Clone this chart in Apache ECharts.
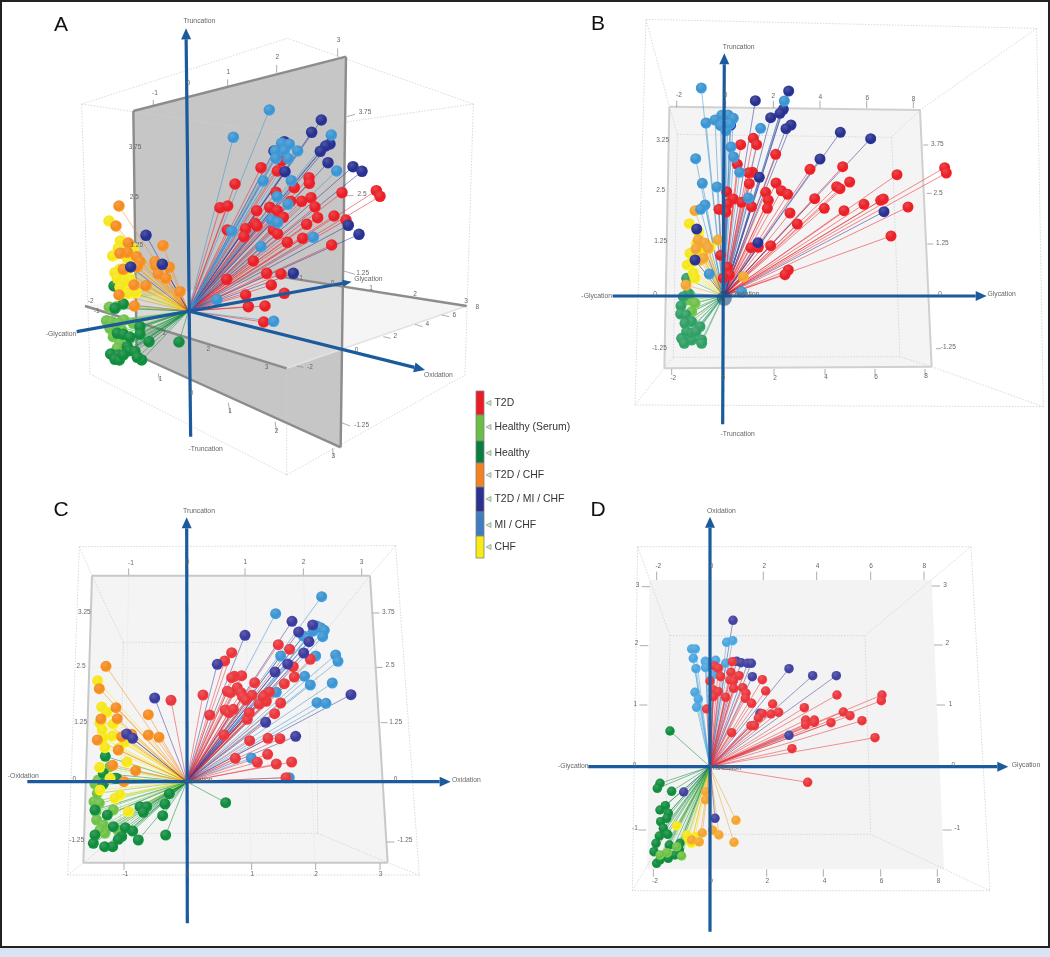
<!DOCTYPE html>
<html><head><meta charset="utf-8">
<style>html,body{margin:0;padding:0;background:#fff}#c{width:1050px;height:957px}</style>
<script src="https://cdn.jsdelivr.net/npm/echarts@6/dist/echarts.min.js"></script>
</head><body><div id="c"></div>
<script>
// Each panel is a projected 3D view; values are read off the picture as [across, up]
// positions relative to the panel's origin, in the units of that panel's own value axes.
const classNames = ['T2D','Healthy (Serum)','Healthy','T2D / CHF','T2D / MI / CHF','MI / CHF','CHF'];
const legendColors = ['#ed1c24','#6cbd45','#0a7d40','#f58220','#2b3190','#3f7cc0','#f7ec13'];

// ---------- Panel A ----------
const aT2D=[[2.18,4.30],[2.67,4.20],[2.80,4.50],[1.40,3.81],[0.95,3.10],[1.18,3.15],[2.63,3.56],[3.18,3.70],[3.62,4.00],[3.63,3.83],[4.61,3.55],[5.64,3.61],[5.75,3.44],[2.05,3.01],[2.44,3.11],[2.67,3.01],[2.85,2.81],[3.07,3.29],[3.40,3.29],[3.68,3.40],[3.80,3.12],[3.88,2.80],[3.55,2.60],[4.37,2.85],[1.17,2.43],[1.72,2.47],[1.67,2.23],[2.00,2.63],[2.06,2.55],[2.55,2.43],[2.68,2.31],[2.97,2.06],[3.43,2.18],[4.30,1.98],[1.95,1.50],[1.15,0.95],[2.35,1.13],[2.78,1.11],[2.49,0.78],[1.72,0.48],[2.88,0.53],[1.80,0.13],[2.30,0.15],[2.26,-0.33],[4.73,2.73]];
const aSerum=[[-2.37,0.11],[-2.15,0.13],[-2.45,-0.29],[-2.30,-0.32],[-2.00,-0.57],[-2.35,-0.52],[-2.25,-0.77],[-2.05,-0.97],[-2.13,-1.12],[-1.93,-0.27],[-1.65,-0.37],[-2.10,-0.37]];
const aHealthy=[[-2.23,0.75],[-1.95,0.21],[-2.20,0.08],[-0.28,-0.93],[-2.13,-0.67],[-1.95,-0.70],[-1.75,-0.79],[-1.45,-0.47],[-1.45,-0.70],[-1.18,-0.92],[-1.83,-1.07],[-2.33,-1.29],[-2.10,-1.32],[-2.20,-1.45],[-2.07,-1.47],[-1.77,-1.19],[-1.60,-1.22],[-1.40,-1.47],[-1.53,-1.39],[-1.95,-1.32]];
const aT2dChf=[[-2.08,3.15],[-2.17,2.55],[-1.80,2.04],[-0.76,1.96],[-1.83,1.76],[-2.05,1.73],[-1.55,1.63],[-1.45,1.48],[-1.00,1.48],[-0.97,1.35],[-0.57,1.31],[-1.53,1.33],[-1.95,1.25],[-0.90,1.11],[-0.67,0.98],[-1.63,0.78],[-1.27,0.76],[-0.25,0.58],[-2.08,0.48],[-1.62,0.15]];
const aT2dMiChf=[[3.99,5.73],[3.70,5.36],[2.88,5.08],[2.57,4.80],[4.25,5.01],[4.12,4.95],[3.96,4.79],[4.19,4.45],[4.94,4.33],[5.21,4.19],[2.90,4.18],[4.80,2.57],[5.12,2.30],[3.15,1.13],[-1.27,2.27],[-1.73,1.32],[-0.78,1.40]];
const aMiChf=[[2.43,6.03],[1.35,5.21],[4.29,5.28],[2.80,5.03],[3.03,5.00],[2.88,4.81],[2.61,4.80],[3.28,4.80],[3.00,4.57],[2.63,4.58],[4.45,4.20],[2.25,3.90],[3.09,3.91],[2.67,3.43],[2.99,3.20],[2.50,2.73],[2.68,2.65],[1.30,2.39],[3.75,2.21],[2.18,1.93],[0.86,0.34],[2.56,-0.31]];
const aChf=[[-2.38,2.70],[-2.04,2.10],[-2.10,1.88],[-1.65,1.88],[-2.27,1.65],[-1.83,1.58],[-2.05,1.25],[-2.20,1.15],[-1.90,1.05],[-2.13,0.98],[-1.75,0.95],[-1.95,0.81],[-1.80,0.53],[-2.05,0.71],[-1.57,0.55],[-1.83,1.23]];

// ---------- Panel B ----------
const bT2D=[[.52,4.54],[.90,4.73],[1.00,4.54],[1.57,4.25],[.42,3.95],[.88,3.71],[.76,3.70],[2.60,3.80],[3.58,3.88],[5.21,3.64],[6.64,3.85],[6.69,3.69],[.78,3.37],[1.58,3.39],[.10,3.13],[1.27,3.11],[1.74,3.16],[1.93,3.05],[3.40,3.28],[3.50,3.22],[3.79,3.42],[2.74,2.92],[.30,2.91],[.13,2.76],[.55,2.81],[1.35,2.87],[1.32,2.63],[.85,2.68],[-.13,2.60],[.08,2.52],[3.03,2.63],[3.62,2.56],[4.22,2.75],[4.72,2.87],[4.80,2.91],[5.54,2.67],[2.00,2.49],[2.22,2.16],[5.03,1.80],[.83,1.45],[1.05,1.46],[1.42,1.51],[-.08,1.22],[.13,.86],[.18,.63],[0,.54],[1.95,.78],[1.85,.64]];
const bSerum=[[-1.00,.03],[-1.05,-.12],[-.85,-.22],[-1.12,-.77],[-.95,-.47]];
const bHealthy=[[-1.10,.53],[-1.27,-.30],[-1.28,-.54],[-1.12,-.57],[-1.05,.08],[-1.20,-.02],[-.95,-.77],[-.70,-.92],[-1.25,-1.27],[-.95,-1.32],[-.65,-1.32],[-.65,-1.42],[-1.17,-1.42],[-1.10,-1.07],[-.93,-1.12],[-1.15,-.82],[-.82,-1.07]];
const bT2dChf=[[-.85,2.56],[-.75,1.68],[-.82,1.41],[-.55,1.58],[-.45,1.43],[-.70,1.08],[-.60,1.13],[-1.12,.33],[-.15,1.68],[.60,.58]];
const bT2dMiChf=[[1.96,6.15],[.96,5.86],[1.80,5.60],[1.70,5.48],[1.42,5.35],[2.03,5.13],[1.88,5.02],[.22,5.13],[3.51,4.91],[4.42,4.72],[2.90,4.11],[1.08,3.56],[4.82,2.53],[1.04,1.60],[-.80,2.01],[-.85,1.08]];
const bMiChf=[[-.66,6.24],[1.83,5.85],[-.05,5.42],[.14,5.43],[.30,5.33],[-.25,5.28],[-.52,5.19],[-.08,5.11],[.08,4.96],[1.12,5.03],[.23,4.47],[-.83,4.12],[.31,4.17],[.49,3.71],[-.63,3.38],[-.19,3.27],[.75,2.94],[-.55,2.73],[-.68,2.60],[-.42,.66],[.55,.12],[.20,5.16]];
const bChf=[[-1.02,2.17],[-.75,1.93],[-1.00,1.28],[-1.08,.93],[-.90,.68],[-.85,.53],[-.70,1.33],[-.95,1.00],[-.80,1.58],[-.40,1.46]];
const bOriginBall=[[.03,-.07]];

// ---------- Panel C ----------
const cT2D=[[2.75,4.11],[3.09,3.97],[1.35,3.87],[1.14,3.62],[3.71,3.67],[3.20,3.45],[3.23,3.14],[2.93,2.94],[1.65,3.18],[1.43,3.16],[1.35,3.12],[2.04,2.97],[.49,2.60],[1.22,2.71],[1.32,2.67],[1.52,2.82],[1.63,2.67],[1.68,2.55],[1.78,2.45],[1.96,2.59],[2.35,2.60],[2.48,2.69],[2.18,2.33],[2.39,2.41],[2.82,2.36],[2.64,2.04],[1.16,2.15],[1.27,2.07],[1.40,2.17],[.69,2.00],[1.82,1.87],[1.88,2.07],[1.12,1.40],[1.89,1.23],[2.44,1.30],[2.80,1.29],[2.43,.82],[1.46,.70],[2.12,.58],[2.69,.53],[3.15,.59],[2.98,.12],[-.47,2.44],[2.30,2.55]];
const cSerum=[[-2.75,-.07],[-2.65,.05],[-2.68,-.35],[-2.78,-.60],[-2.72,-.90],[-2.70,-1.15],[-2.50,-1.30],[-2.45,-1.55],[-2.20,-.85],[-2.07,-1.45],[-2.60,-1.45],[-2.62,-.65],[-2.30,.45]];
const cHealthy=[[-2.44,.76],[-2.50,.25],[-2.50,-.07],[-2.15,.10],[-.52,-.36],[-.65,-.67],[1.17,-.63],[-.72,-1.02],[-.63,-1.60],[-1.45,-1.75],[-1.62,-1.48],[-1.84,-1.38],[-1.40,-.75],[-1.20,-.75],[-1.30,-.92],[-2.38,-1.00],[-1.95,-1.65],[-2.05,-1.73],[-2.22,-1.95],[-2.46,-1.95],[-2.80,-1.85],[-2.75,-1.60],[-2.20,-1.35],[-2.75,-.85],[-2.10,.10]];
const cT2dChf=[[-2.42,3.46],[-2.62,2.79],[-2.12,2.22],[-2.08,1.89],[-1.15,2.01],[-1.15,1.40],[-.83,1.33],[-2.68,1.25],[-1.95,1.35],[-1.65,1.42],[-2.22,.49],[-1.53,.33],[-1.88,0],[-2.57,1.88],[-2.05,.95]];
const cT2dMiChf=[[3.16,4.81],[1.75,4.39],[3.78,4.70],[3.36,4.49],[3.67,4.20],[3.51,3.86],[.92,3.52],[3.03,3.53],[2.65,3.29],[4.93,2.61],[2.37,1.78],[3.27,1.36],[-.96,2.51],[-1.80,1.43],[-1.62,1.30]];
const cMiChf=[[4.05,5.55],[2.67,5.04],[3.90,4.67],[4.02,4.62],[4.13,4.54],[3.80,4.52],[3.50,4.37],[3.63,4.30],[4.08,4.35],[2.82,3.77],[3.87,3.77],[4.47,3.80],[4.54,3.61],[3.54,3.16],[3.71,2.90],[4.37,2.96],[2.69,2.68],[3.91,2.37],[4.18,2.35],[1.94,.71],[3.08,.12]];
const cChf=[[-2.67,3.03],[-2.55,2.24],[-2.39,2.08],[-2.58,1.83],[-2.60,1.75],[-2.20,1.73],[-2.53,1.55],[-2.22,1.37],[-2.50,1.30],[-1.85,1.18],[-2.45,1.02],[-2.03,1.00],[-1.79,.59],[-2.61,.43],[-2.00,-.40],[-1.75,-.90],[-2.15,-.50],[-2.30,.10],[-2.60,-.25]];

// ---------- Panel D ----------
const dT2D=[[.13,3.02],[.25,2.95],[.63,2.83],[.87,2.73],[0,2.57],[.32,2.70],[.60,2.60],[.70,2.57],[1.57,2.61],[.71,2.35],[.98,2.37],[1.67,2.27],[1.08,2.20],[.10,2.30],[.25,2.25],[.10,2.10],[.47,2.08],[1.06,2.05],[1.25,1.90],[1.88,1.88],[-.10,1.73],[2.83,1.77],[3.81,2.15],[5.16,2.15],[5.14,1.98],[4.00,1.64],[4.20,1.53],[4.56,1.38],[3.63,1.32],[3.13,1.40],[3.13,1.33],[2.87,1.40],[2.87,1.26],[2.06,1.63],[1.83,1.58],[1.57,1.59],[1.45,1.46],[1.23,1.23],[1.33,1.23],[.65,1.02],[4.95,.87],[2.46,.54],[2.93,-.47],[.67,3.15]];
const dSerum=[[-1.28,-2.58],[-1.50,-2.65],[-.85,-2.68],[-1.00,-2.40]];
const dHealthy=[[-1.50,-.50],[-1.58,-.65],[-1.15,-.74],[-1.34,-1.17],[-1.50,-1.30],[-1.25,-1.40],[-1.30,-1.55],[-1.48,-1.65],[-1.40,-1.85],[-1.27,-2.03],[-1.52,-2.08],[-1.62,-2.30],[-1.22,-2.35],[-.90,-2.30],[-.92,-2.50],[-1.68,-2.55],[-1.20,1.07],[-1.60,-2.90],[-1.50,-2.80],[-1.25,-2.75],[-1.05,-2.65]];
const dT2dChf=[[-.12,-.75],[-.13,-1.00],[.78,-1.61],[-.23,-1.99],[.08,-1.91],[.27,-2.05],[.72,-2.27],[-.32,-2.26],[-.55,-2.20]];
const dT2dMiChf=[[.69,4.39],[.80,3.16],[.93,3.12],[1.13,3.10],[1.24,3.10],[2.37,2.94],[3.08,2.73],[3.79,2.73],[1.27,2.70],[1.50,1.60],[2.37,.94],[-.79,-.76],[.15,-1.55]];
const dMiChf=[[.68,3.78],[.50,3.73],[-.55,3.53],[-.44,3.53],[-.50,3.25],[-.14,3.16],[.17,3.19],[-.10,3.10],[.47,3.10],[-.13,2.97],[-.42,2.94],[.10,2.75],[-.45,2.23],[-.35,2.02],[-.40,1.78]];
const dChf=[[-1.00,-1.77],[-.65,-2.20],[-.55,-2.30],[-.70,-2.05],[-.45,-2.10]];

// ---------- Frames of the views (corner positions in panel units) ----------
const aWallPlane=[[-1.65,6.00],[4.73,7.63],[4.57,-4.09],[-1.55,-1.32]];
const aFloorPlane=[[-3.10,0.15],[2.95,-1.72],[8.35,0.15],[2.75,1.03]];
const aBox=[[-3.20,6.21,2.97,8.18],[2.97,8.18,8.55,6.21],[8.55,6.21,2.55,5.36],[2.55,5.36,-3.20,6.21],[-3.20,6.21,-2.95,-1.89],[8.55,6.21,8.30,-1.92],[2.55,5.36,2.75,1.03],[2.95,-1.72,2.95,-4.92],[-2.95,-1.89,2.95,-4.92],[2.95,-4.92,8.30,-1.92]];
const aEdges=[[-1.65,6.00,4.73,7.63],[4.73,7.63,4.57,-4.09],[4.57,-4.09,-1.55,-1.32],[-1.55,-1.32,-1.65,6.00],[-3.10,0.15,2.95,-1.72],[2.75,1.03,8.35,0.15]];
const aSoftEdges=[[2.95,-1.72,8.35,0.15]];
const aTicks=[[-1.05,6.33,-1.05,6.15],[1.18,6.95,1.18,6.75],[2.65,7.38,2.65,7.15],[4.48,7.88,4.48,7.63],[4.75,5.83,5.00,5.90],[4.63,3.46,4.95,3.46],[4.63,1.21,5.00,1.10],[4.60,-3.35,4.85,-3.45],[7.60,-0.12,7.83,-0.17],[6.80,-0.40,7.03,-0.47],[5.85,-0.77,6.07,-0.82],[3.25,-1.65,3.45,-1.69],[-0.90,-1.87,-0.87,-2.07],[1.20,-2.75,1.25,-3.07],[2.60,-3.32,2.65,-3.62],[4.33,-4.12,4.35,-4.37]];
const aTickLabels=[[-1.00,6.52,'-1'],[0,6.83,'0'],[1.20,7.17,'1'],[2.67,7.60,'2'],[4.51,8.12,'3'],[5.30,5.95,'3.75'],[-1.60,4.90,'3.75'],[5.21,3.51,'2.5'],[-1.62,3.40,'2.5'],[5.23,1.13,'1.25'],[-1.55,1.98,'1.25'],[4.33,0.83,'0'],[5.48,0.67,'1'],[6.80,0.49,'2'],[8.33,0.28,'3'],[8.67,0.12,'8'],[7.98,-0.14,'6'],[7.17,-0.41,'4'],[6.21,-0.77,'2'],[3.65,-1.69,'-2'],[2.35,-1.69,'3'],[0.60,-1.14,'2'],[-2.93,0.29,'-2'],[-2.75,-0.02,'-1'],[-0.83,-2.05,'1'],[1.25,-3.00,'1'],[2.65,-3.62,'2'],[4.35,-4.37,'3'],[5.20,-3.44,'-1.25'],[0.10,-2.47,'0'],[3.35,0.97,'-1'],[5.05,-1.17,'0'],[-2.30,0.68,'-1'],[-0.73,-0.67,'1']];
const aAxisNames=[[0.33,8.70,'Truncation'],[0.52,-4.13,'-Truncation'],[5.40,0.97,'Glycation'],[-3.82,-0.69,'-Glycation'],[7.50,-1.92,'Oxidation']];
const aAxes=[[0.07,-3.77,-0.07,8.48],[-3.35,-0.62,4.90,0.88],[0,0,7.10,-1.77]];

const bPlane=[[-1.62,5.68],[5.90,5.58],[6.25,-2.12],[-1.77,-2.17]];
const bBox=[[-2.32,8.30,9.40,8.03],[9.40,8.03,9.60,-3.32],[9.60,-3.32,-2.65,-3.27],[-2.65,-3.27,-2.32,8.30],[-1.38,4.85,5.05,4.76],[5.05,4.76,5.30,-1.82],[5.30,-1.82,-1.50,-1.84],[-1.50,-1.84,-1.38,4.85],[-2.32,8.30,-1.62,5.68],[9.40,8.03,5.90,5.58],[9.60,-3.32,6.25,-2.12],[-2.65,-3.27,-1.77,-2.17],[-1.62,5.68,-1.38,4.85],[5.90,5.58,5.05,4.76],[6.25,-2.12,5.30,-1.82],[-1.77,-2.17,-1.50,-1.84]];
const bEdges=[[-1.62,5.68,5.90,5.58],[5.90,5.58,6.25,-2.12],[6.25,-2.12,-1.77,-2.17],[-1.77,-2.17,-1.62,5.68]];
const bTicks=[[-1.40,5.86,-1.40,5.66],[.07,5.86,.07,5.64],[1.50,5.86,1.50,5.64],[2.90,5.86,2.90,5.64],[4.30,5.86,4.30,5.64],[5.70,5.86,5.70,5.64],[6.00,4.53,6.15,4.53],[6.10,3.08,6.25,3.08],[6.12,1.56,6.30,1.56],[6.38,-1.58,6.53,-1.58],[-1.55,-2.19,-1.55,-2.37],[.02,-2.19,.02,-2.37],[1.52,-2.19,1.52,-2.37],[3.05,-2.19,3.05,-2.37],[4.55,-2.19,4.55,-2.37],[6.05,-2.19,6.05,-2.37]];
const bTickLabels=[[-1.33,6.02,'-2'],[.07,6.01,'0'],[1.50,5.99,'2'],[2.91,5.96,'4'],[4.32,5.93,'6'],[5.71,5.91,'8'],[6.42,4.55,'3.75'],[6.44,3.08,'2.5'],[6.57,1.58,'1.25'],[6.50,.06,'0'],[6.75,-1.55,'-1.25'],[-1.82,4.66,'3.25'],[-1.88,3.16,'2.5'],[-1.88,1.63,'1.25'],[-2.05,.06,'0'],[-1.92,-1.58,'-1.25'],[-1.50,-2.47,'-2'],[0,-2.47,'0'],[1.55,-2.47,'2'],[3.08,-2.44,'4'],[4.58,-2.44,'6'],[6.08,-2.42,'8']];
const bAxisNames=[[.46,7.48,'Truncation'],[.43,-4.14,'-Truncation'],[-3.80,-.01,'-Glycation'],[8.35,.05,'Glycation'],[.65,.05,'Oxidation']];
const bAxes=[[-.02,-3.85,.03,7.28],[-3.32,0,7.90,0]];

const cPlane=[[-2.84,6.18],[5.50,6.18],[6.03,-2.43],[-3.10,-2.43]];
const cBox=[[-3.22,7.05,6.27,7.08],[6.27,7.08,6.98,-2.80],[6.98,-2.80,-3.57,-2.80],[-3.57,-2.80,-3.22,7.05],[-1.90,4.18,3.90,4.18],[3.90,4.18,3.93,-1.55],[3.93,-1.55,-2.00,-1.55],[-2.00,-1.55,-1.90,4.18],[-3.22,7.05,-2.84,6.18],[6.27,7.08,5.50,6.18],[6.98,-2.80,6.03,-2.43],[-3.57,-2.80,-3.10,-2.43],[-2.84,6.18,-1.90,4.18],[5.50,6.18,3.90,4.18],[6.03,-2.43,3.93,-1.55],[-3.10,-2.43,-2.00,-1.55]];
const cEdges=[[-2.84,6.18,5.50,6.18],[5.50,6.18,6.03,-2.43],[6.03,-2.43,-3.10,-2.43],[-3.10,-2.43,-2.84,6.18]];
const cGrid=[[1.75,6.18,1.93,-2.43],[3.50,6.18,3.85,-2.43],[-1.74,6.18,-1.88,-2.43],[-2.95,3.42,5.75,3.42],[-3.00,1.78,5.85,1.78]];
const cTicks=[[-1.74,6.40,-1.74,6.20],[.03,6.40,.03,6.20],[1.75,6.40,1.75,6.20],[3.50,6.40,3.50,6.20],[5.25,6.40,5.25,6.20],[5.58,5.06,5.78,5.06],[5.70,3.43,5.88,3.43],[5.83,1.77,6.03,1.77],[6.00,-1.81,6.23,-1.81],[-1.88,-2.45,-1.88,-2.65],[.03,-2.45,.03,-2.65],[1.95,-2.45,1.95,-2.65],[3.87,-2.45,3.87,-2.65],[5.80,-2.45,5.80,-2.65]];
const cTickLabels=[[-1.67,6.55,'-1'],[.03,6.57,'0'],[1.76,6.57,'1'],[3.51,6.57,'2'],[5.25,6.57,'3'],[6.05,5.09,'3.75'],[6.10,3.48,'2.5'],[6.27,1.79,'1.25'],[6.27,.06,'0'],[6.55,-1.77,'-1.25'],[-3.07,5.07,'3.25'],[-3.17,3.46,'2.5'],[-3.18,1.79,'1.25'],[-3.37,.06,'0'],[-3.30,-1.75,'-1.25'],[-1.84,-2.78,'-1'],[.03,-2.78,'0'],[1.97,-2.78,'1'],[3.88,-2.78,'2'],[5.82,-2.78,'3']];
const cAxisNames=[[.37,8.13,'Truncation'],[8.39,.05,'Oxidation'],[-4.90,.17,'-Oxidation'],[.35,.05,'Glycation']];
const cAxes=[[.02,-4.25,0,7.93],[-4.78,0,7.92,0]];

const dPlane=[[-1.82,5.60],[6.65,5.60],[7.02,-3.08],[-1.88,-3.08]];
const dBox=[[-2.17,6.60,7.83,6.60],[7.83,6.60,8.40,-3.72],[8.40,-3.72,-2.33,-3.72],[-2.33,-3.72,-2.17,6.60],[-1.20,3.93,4.65,3.93],[4.65,3.93,4.82,-2.03],[4.82,-2.03,-1.32,-2.03],[-1.32,-2.03,-1.20,3.93],[-2.17,6.60,-1.20,3.93],[7.83,6.60,4.65,3.93],[8.40,-3.72,4.82,-2.03],[-2.33,-3.72,-1.32,-2.03]];
const dTicks=[[-1.60,5.85,-1.60,5.60],[1.60,5.85,1.60,5.60],[3.20,5.85,3.20,5.60],[4.82,5.85,4.82,5.60],[6.42,5.85,6.42,5.60],[6.65,5.42,6.90,5.42],[6.72,3.65,6.98,3.65],[6.80,1.85,7.05,1.85],[6.98,-1.90,7.25,-1.90],[-2.05,5.40,-1.80,5.40],[-2.10,3.63,-1.85,3.63],[-2.12,1.85,-1.88,1.85],[-2.15,-1.90,-1.92,-1.90],[-1.70,-3.08,-1.70,-3.30],[1.70,-3.08,1.70,-3.30],[3.40,-3.08,3.40,-3.30],[5.12,-3.08,5.12,-3.30],[6.82,-3.08,6.82,-3.30]];
const dTickLabels=[[-1.55,6.01,'-2'],[.05,6.01,'0'],[1.63,6.01,'2'],[3.23,6.01,'4'],[4.83,6.01,'6'],[6.43,6.01,'8'],[7.05,5.45,'3'],[7.12,3.69,'2'],[7.22,1.88,'1'],[7.30,.05,'0'],[7.42,-1.86,'-1'],[-2.17,5.45,'3'],[-2.20,3.69,'2'],[-2.24,1.88,'1'],[-2.26,.05,'0'],[-2.25,-1.86,'-1'],[-1.65,-3.45,'-2'],[.03,-3.45,'0'],[1.72,-3.45,'2'],[3.44,-3.45,'4'],[5.15,-3.45,'6'],[6.86,-3.45,'8']];
const dAxisNames=[[.34,7.68,'Oxidation'],[-4.10,.01,'-Glycation'],[9.48,.05,'Glycation'],[.45,-.05,'Truncation']];
const dAxes=[[0,-4.95,0,7.50],[-3.65,0,8.95,0]];

const panels=[
 {letter:'A',lx:61,ly:25,grid:[40,0,460,480],xr:[-4.45,9.35],yr:[-5.07,9.33],size:11.5,rayW:1,
  sets:[aSerum,aHealthy,aChf,aT2dChf,aT2D,aT2dMiChf,aMiChf],
  colors:['#6cbf46','#0f8a3c','#f5e616','#f58a1f','#e81f26','#27308f','#3a93d0'],
  planes:[[aWallPlane,'#c6c6c6'],[aFloorPlane,'rgba(236,236,236,0.5)']],box:aBox,edges:aEdges,edgeColor:'#8c8c8c',edgeW:2.4,soft:aSoftEdges,
  ticks:aTicks,labels:aTickLabels,names:aAxisNames,axes:aAxes},
 {letter:'B',lx:598,ly:24,grid:[570,10,480,430],xr:[-4.60,9.80],yr:[-4.32,8.58],size:11,rayW:1,
  sets:[bSerum,bHealthy,bChf,bT2dChf,bT2D,bT2dMiChf,bMiChf],
  colors:['#6cbf46','#2e9d63','#f5e616','#f2a32e','#e81f26','#27308f','#3a93d0'],
  planes:[[bPlane,'#f4f4f4']],box:bBox,edges:bEdges,edgeColor:'#d0d0d0',edgeW:2,soft:[],
  ticks:bTicks,labels:bTickLabels,names:bAxisNames,axes:bAxes,ball:bOriginBall},
 {letter:'C',lx:61,ly:510,grid:[20,490,480,450],xr:[-5.00,9.40],yr:[-4.75,8.75],size:11,rayW:1,
  sets:[cSerum,cHealthy,cChf,cT2dChf,cMiChf,cT2D,cT2dMiChf],
  colors:['#6cbf46','#0f8a3c','#f5e616','#f58a1f','#3a93d0','#e8343a','#3a3a9c'],
  planes:[[cPlane,'#f4f4f4']],box:cBox,edges:cEdges,edgeColor:'#c8c8c8',edgeW:2,soft:cGrid,
  ticks:cTicks,labels:cTickLabels,names:cAxisNames,axes:cAxes},
 {letter:'D',lx:598,ly:510,grid:[560,500,490,440],xr:[-4.50,10.20],yr:[-5.20,8.00],size:9.5,rayW:1,
  sets:[dChf,dT2dChf,dHealthy,dSerum,dMiChf,dT2dMiChf,dT2D],
  colors:['#f5e616','#f2a32e','#0f8a3c','#6cbf46','#4aa3dc','#40409e','#e8343a'],
  planes:[[dPlane,'#f3f3f3']],box:dBox,edges:[],edgeColor:'#ccc',edgeW:1,soft:[],
  ticks:dTicks,labels:dTickLabels,names:dAxisNames,axes:dAxes}
];

const chart=echarts.init(document.getElementById('c'),null,{renderer:'canvas'});
const grids=[],xAxes=[],yAxes=[],series=[];
const lift=echarts.color.lift, alpha=echarts.color.modifyAlpha;

function segSeries(i,segs,color,width,dash,z){
  return {type:'custom',xAxisIndex:i,yAxisIndex:i,clip:false,silent:true,z:z,data:segs,encode:{x:[0,2],y:[1,3]},
    renderItem:(p,api)=>{const a=api.coord([api.value(0),api.value(1)]),b=api.coord([api.value(2),api.value(3)]);
      return {type:'line',shape:{x1:a[0],y1:a[1],x2:b[0],y2:b[1]},style:{stroke:color,lineWidth:width,lineDash:dash||null}};}};
}
function textSeries(i,rows,size,color){
  return {type:'custom',xAxisIndex:i,yAxisIndex:i,clip:false,silent:true,z:9,data:rows.map(r=>[r[0],r[1]]),encode:{x:0,y:1},
    renderItem:(p,api)=>{const a=api.coord([api.value(0),api.value(1)]);
      return {type:'text',style:{text:rows[p.dataIndex][2],x:a[0],y:a[1],fill:color,fontSize:size,fontFamily:'Liberation Sans',align:'center',verticalAlign:'middle'}};}};
}
panels.forEach((pn,i)=>{
  grids.push({left:pn.grid[0],top:pn.grid[1],width:pn.grid[2],height:pn.grid[3],containLabel:false});
  xAxes.push({type:'value',gridIndex:i,min:pn.xr[0],max:pn.xr[1],show:false});
  yAxes.push({type:'value',gridIndex:i,min:pn.yr[0],max:pn.yr[1],show:false});
  pn.planes.forEach(pl=>series.push({type:'custom',xAxisIndex:i,yAxisIndex:i,clip:false,silent:true,z:1,data:[pl[0][0]],encode:{x:0,y:1},
    renderItem:(p,api)=>({type:'polygon',shape:{points:pl[0].map(q=>api.coord(q))},style:{fill:pl[1]}})}));
  series.push(segSeries(i,pn.box,'#cfcfcf',0.8,[1.5,1.5],2));
  series.push(segSeries(i,pn.soft,i===0?'#e2e2e2':'#ececec',i===0?1.5:0.8,null,2));
  series.push(segSeries(i,pn.edges,pn.edgeColor,pn.edgeW,null,3));
  series.push(segSeries(i,pn.ticks,'#8a8a8a',0.7,null,3));
  pn.sets.forEach((set,k)=>{
    const col=pn.colors[k];
    series.push({name:'rays',type:'custom',xAxisIndex:i,yAxisIndex:i,clip:false,silent:true,z:4,data:set,encode:{x:0,y:1},
      renderItem:(p,api)=>{const a=api.coord([0,0]),b=api.coord([api.value(0),api.value(1)]);
        return {type:'line',shape:{x1:a[0],y1:a[1],x2:b[0],y2:b[1]},style:{stroke:alpha(col,0.52),lineWidth:pn.rayW}};}});
  });
  pn.sets.forEach((set,k)=>{
    const col=pn.colors[k];
    series.push({type:'scatter',xAxisIndex:i,yAxisIndex:i,clip:false,silent:true,z:5,data:set,symbolSize:pn.size,
      itemStyle:{opacity:1,color:{type:'radial',x:0.38,y:0.32,r:0.75,colorStops:[{offset:0,color:lift(col,0.18)},{offset:0.6,color:col},{offset:1,color:lift(col,-0.15)}]}}});
  });
  if(pn.ball) series.push({type:'scatter',xAxisIndex:i,yAxisIndex:i,clip:false,silent:true,z:6,data:pn.ball,symbolSize:15,itemStyle:{color:'rgba(28,78,130,0.75)'}});
  series.push({type:'custom',xAxisIndex:i,yAxisIndex:i,clip:false,silent:true,z:6,data:pn.axes,encode:{x:[0,2],y:[1,3]},
    renderItem:(p,api)=>{const a=api.coord([api.value(0),api.value(1)]),b=api.coord([api.value(2),api.value(3)]);
      const L=Math.hypot(b[0]-a[0],b[1]-a[1]),ux=(b[0]-a[0])/L,uy=(b[1]-a[1])/L;
      const small=(i===0&&p.dataIndex===1);
      const tip=small?9:11, hw=small?3.5:5, m2=[b[0]-ux*tip,b[1]-uy*tip];
      return {type:'group',children:[
        {type:'line',shape:{x1:a[0],y1:a[1],x2:m2[0],y2:m2[1]},style:{stroke:'#1b5a9c',lineWidth:3.2}},
        {type:'polygon',shape:{points:[b,[m2[0]-uy*hw,m2[1]+ux*hw],[m2[0]+uy*hw,m2[1]-ux*hw]]},style:{fill:'#1b5a9c'}}]};}});
  series.push(textSeries(i,pn.labels,6.5,'#666'));
  series.push(textSeries(i,pn.names,6.8,'#666'));
});

const legendTops=[391,415,441,463,487,512,536,558];
const legendTextY=[403,427,453,475,499,525,547];
const graphic=[
 {type:'rect',z:0,shape:{x:0,y:0,width:1050,height:2},style:{fill:'#222'}},
 {type:'rect',z:0,shape:{x:0,y:0,width:2,height:948},style:{fill:'#222'}},
 {type:'rect',z:0,shape:{x:1048,y:0,width:2,height:948},style:{fill:'#222'}},
 {type:'rect',z:0,shape:{x:0,y:946,width:1050,height:2},style:{fill:'#222'}},
 {type:'rect',z:0,shape:{x:0,y:948,width:1050,height:9},style:{fill:'#d9e3f4'}}
];
panels.forEach(pn=>graphic.push({type:'text',z:20,style:{text:pn.letter,x:pn.lx,y:pn.ly,fill:'#111',fontSize:21,fontFamily:'Liberation Sans',align:'center',verticalAlign:'middle'}}));
classNames.forEach((n,k)=>{
  graphic.push({type:'rect',z:20,shape:{x:476,y:legendTops[k],width:8,height:legendTops[k+1]-legendTops[k]},style:{fill:legendColors[k],stroke:'#808080',lineWidth:0.8}});
  graphic.push({type:'polygon',z:20,shape:{points:[[486,legendTextY[k]],[491,legendTextY[k]-2.5],[491,legendTextY[k]+2.5]]},style:{fill:'#d5e6cf',stroke:'#7c9a78',lineWidth:0.7}});
  graphic.push({type:'text',z:20,style:{text:n,x:494.5,y:legendTextY[k],fill:'#333',fontSize:10.4,fontFamily:'Liberation Sans',align:'left',verticalAlign:'middle'}});
});

chart.setOption({animation:false,backgroundColor:'#fff',grid:grids,xAxis:xAxes,yAxis:yAxes,series:series,graphic:graphic,tooltip:{show:false}});
</script></body></html>
